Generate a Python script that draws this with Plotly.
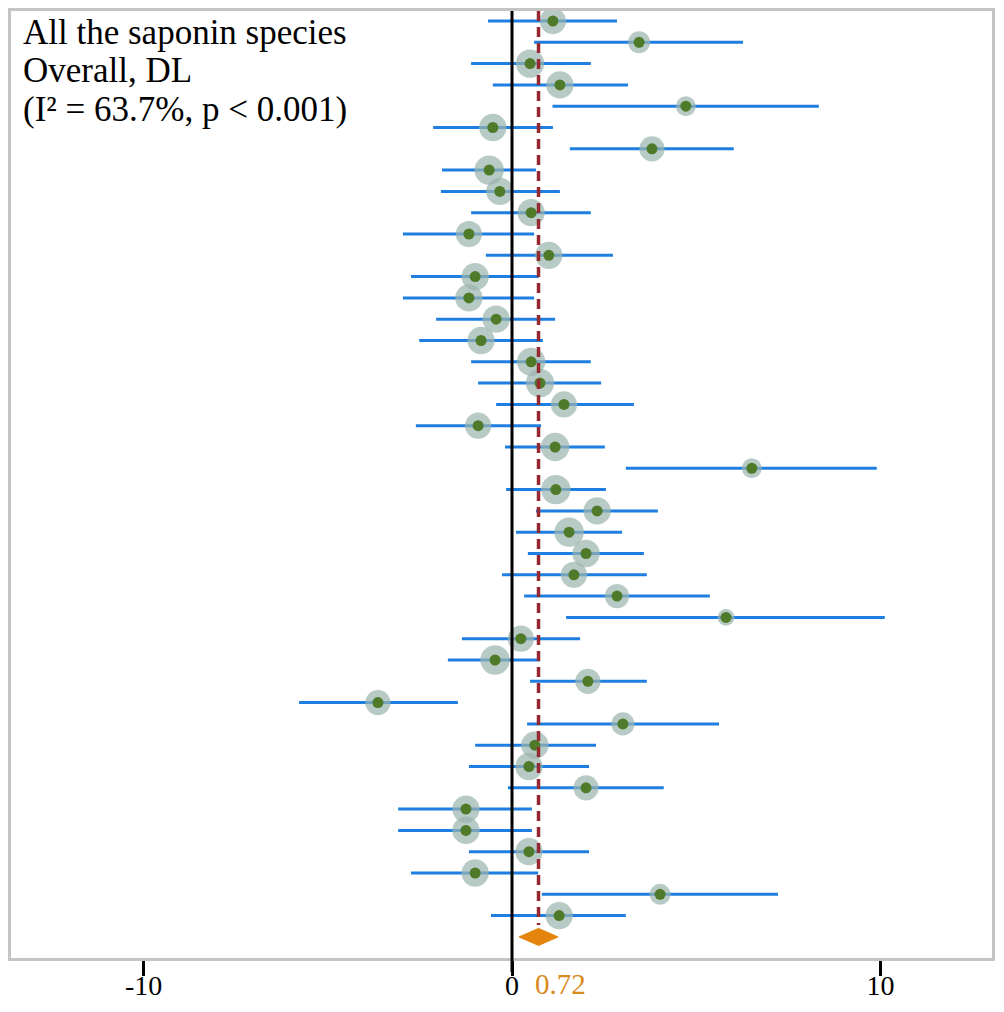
"""Forest plot - all the saponin species"""
import plotly.graph_objects as go

# study estimates and 95% CI
est = [1.11, 3.45, 0.49, 1.30, 4.72, -0.52, 3.80, -0.62, -0.33, 0.52,
       -1.17, 1.00, -1.00, -1.17, -0.43, -0.84, 0.52, 0.76, 1.41, -0.92,
       1.17, 6.51, 1.19, 2.31, 1.55, 2.01, 1.68, 2.85, 5.81, 0.24,
       -0.46, 2.06, -3.64, 3.01, 0.62, 0.46, 2.01, -1.25, -1.25, 0.46,
       -1.00, 4.02, 1.28]
lo = [-0.65, 0.60, -1.11, -0.52, 1.10, -2.14, 1.57, -1.90, -1.93, -1.11,
      -2.96, -0.71, -2.74, -2.96, -2.06, -2.52, -1.11, -0.92, -0.43, -2.61,
      -0.19, 3.09, -0.16, 0.65, 0.11, 0.43, -0.27, 0.33, 1.47, -1.36,
      -1.74, 0.49, -5.78, 0.41, -1.00, -1.17, -0.11, -3.09, -3.09, -1.17,
      -2.74, 0.81, -0.57]
hi = [2.85, 6.27, 2.14, 3.15, 8.33, 1.11, 6.02, 0.65, 1.30, 2.14,
      0.60, 2.74, 0.73, 0.60, 1.17, 0.84, 2.14, 2.42, 3.31, 0.79,
      2.52, 9.90, 2.55, 3.96, 2.99, 3.58, 3.66, 5.37, 10.12, 1.85,
      0.76, 3.66, -1.47, 5.62, 2.28, 2.09, 4.12, 0.54, 0.54, 2.09,
      0.71, 7.22, 3.09]
# approximate study weights (%)
weight = [2.5, 2.1, 2.7, 2.6, 1.9, 2.6, 2.4, 2.8, 2.6, 2.6,
          2.5, 2.6, 2.6, 2.6, 2.6, 2.6, 2.7, 2.7, 2.5, 2.5,
          2.7, 1.9, 2.8, 2.6, 2.8, 2.6, 2.5, 2.3, 1.6, 2.5,
          2.8, 2.4, 2.4, 2.2, 2.6, 2.6, 2.4, 2.6, 2.6, 2.6,
          2.6, 2.0, 2.6]

# pooled DL estimate
pooled = 0.72
pooled_lo = 0.19
pooled_hi = 1.25

row = list(range(1, len(est) + 1))
pooled_row = len(est) + 1

serif = "Liberation Serif, Times New Roman, serif"

# the page body adds an 8px margin; keep the figure small enough to avoid scrollbars
W, H = 988, 996
L, R, T, B = 3, 4, 3, 46
pw, ph = W - L - R, H - T - B


def px_x(px):
    return (px - 8 - L) / pw


def px_y(py):
    return (8 + T + ph - py) / ph


fig = go.Figure()

# confidence intervals
fig.add_trace(go.Scatter(
    x=est, y=row, mode='markers',
    marker=dict(size=1, color='rgba(0,0,0,0)'),
    error_x=dict(type='data', symmetric=False,
                 array=[h - e for h, e in zip(hi, est)],
                 arrayminus=[e - l for e, l in zip(est, lo)],
                 color='#1f7fe0', thickness=3, width=0),
    hoverinfo='skip'))

# weight halos
fig.add_trace(go.Scatter(
    x=est, y=row, mode='markers',
    marker=dict(size=[w * 10.5 for w in weight], color='rgb(154,180,172)',
                line=dict(width=0))))

# point estimates
fig.add_trace(go.Scatter(
    x=est, y=row, mode='markers',
    marker=dict(size=11, color='#4f7a2a', line=dict(width=0))))

# pooled diamond
fig.add_trace(go.Scatter(
    x=[pooled_lo, pooled, pooled_hi, pooled, pooled_lo],
    y=[pooled_row, pooled_row - 0.4, pooled_row, pooled_row + 0.4, pooled_row],
    mode='lines', fill='toself', fillcolor='#e5840c',
    line=dict(color='#e5840c', width=1)))

# reference lines
fig.add_shape(type='line', x0=0, x1=0, yref='paper', y0=px_y(972), y1=1,
              line=dict(color='black', width=3))
fig.add_shape(type='line', x0=pooled, x1=pooled, y0=0.53, y1=pooled_row - 0.56,
              line=dict(color='#962830', width=3.5, dash='10px,6px'))

# text
fig.add_annotation(x=pooled, xanchor='left', xshift=-6, y=px_y(984), yref='paper',
                   yanchor='middle', text='0.72', showarrow=False,
                   font=dict(family=serif, size=29, color='#d98a1c'))
lines = ['All the saponin species', 'Overall, DL', '(I² = 63.7%, p < 0.001)']
for i, t in enumerate(lines):
    fig.add_annotation(x=px_x(21), xref='paper', xanchor='left',
                       y=px_y(32.3 + 38.4 * i), yref='paper', yanchor='middle',
                       text=t, showarrow=False,
                       font=dict(family=serif, size=35, color='black'))

fig.update_layout(
    width=W, height=H,
    margin=dict(l=L, r=R, t=T, b=B, autoexpand=False),
    plot_bgcolor='white', paper_bgcolor='white',
    showlegend=False,
    xaxis=dict(range=[-13.60, 13.03], tickvals=[-10, 0, 10],
               ticktext=['-10', '0', '10'], automargin=False,
               ticks='outside', ticklen=15, tickwidth=2.5, tickcolor='black',
               ticklabelstandoff=-15,
               showline=True, linecolor='#c4c4c4', linewidth=3, mirror=True,
               showgrid=False, zeroline=False,
               tickfont=dict(family=serif, size=28, color='black')),
    yaxis=dict(range=[44.99, 0.53], showticklabels=False,
               automargin=False,
               showline=True, linecolor='#c4c4c4', linewidth=3, mirror=True,
               showgrid=False, zeroline=False, ticks=''),
)

fig.write_html("out.html")
